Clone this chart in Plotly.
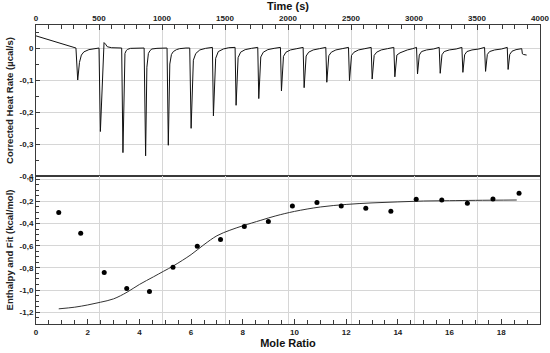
import plotly.graph_objects as go

# ---- Top panel: corrected heat rate trace (time in s, rate in µcal/s)
heat_time = [
    0, 317,
    331, 345, 360, 380, 420, 460, 495,
    500, 511, 540, 552, 566, 600, 676,
    680, 690, 706, 716, 728, 750, 855,
    858, 870, 880, 892, 905, 920, 960, 1036,
    1040, 1050, 1062, 1075, 1090, 1115, 1140, 1190,
    1220, 1231, 1249, 1268, 1300, 1346, 1389,
    1400, 1408, 1426, 1447, 1487, 1530, 1566,
    1580, 1588, 1604, 1624, 1660, 1710, 1750,
    1760, 1768, 1784, 1804, 1840, 1890, 1932,
    1940, 1948, 1964, 1984, 2020, 2070, 2112,
    2120, 2128, 2144, 2164, 2200, 2250, 2292,
    2300, 2308, 2324, 2344, 2380, 2430, 2472,
    2480, 2488, 2504, 2524, 2560, 2610, 2652,
    2660, 2668, 2684, 2704, 2740, 2790, 2832,
    2840, 2848, 2864, 2889, 2947, 2990, 3012,
    3020, 3028, 3042, 3060, 3100, 3155, 3192,
    3200, 3208, 3222, 3240, 3280, 3335, 3372,
    3380, 3388, 3402, 3420, 3460, 3515, 3552,
    3560, 3568, 3582, 3600, 3640, 3695, 3732,
    3740, 3747, 3760, 3778, 3810, 3855, 3860, 3868, 3894,
]
heat_rate = [
    0.038, 0.0,
    -0.100, -0.045, -0.022, -0.012, -0.005, -0.002, 0.0,
    0.0, -0.261, 0.017, 0.012, 0.004, 0.001, 0.0,
    0.0, -0.327, -0.017, -0.008, -0.004, -0.001, 0.0,
    0.0, -0.337, -0.060, -0.017, -0.008, -0.003, -0.001, 0.0,
    0.0, -0.304, -0.050, -0.020, -0.011, -0.005, -0.002, 0.0,
    0.0, -0.251, -0.038, -0.017, -0.006, -0.001, 0.003,
    0.002, -0.212, -0.032, -0.011, -0.003, 0.001, 0.003,
    0.002, -0.179, -0.030, -0.013, -0.005, -0.001, 0.002,
    0.002, -0.158, -0.028, -0.013, -0.005, -0.001, 0.002,
    0.002, -0.134, -0.026, -0.013, -0.006, -0.002, 0.002,
    0.002, -0.124, -0.025, -0.013, -0.006, -0.002, 0.002,
    0.002, -0.107, -0.024, -0.013, -0.006, -0.002, 0.002,
    0.002, -0.102, -0.023, -0.013, -0.006, -0.002, 0.002,
    0.002, -0.097, -0.023, -0.013, -0.006, -0.002, 0.002,
    0.002, -0.090, -0.022, -0.015, -0.006, -0.002, 0.002,
    0.002, -0.081, -0.022, -0.011, -0.006, -0.003, 0.002,
    0.002, -0.079, -0.021, -0.011, -0.006, -0.003, 0.002,
    0.002, -0.076, -0.021, -0.011, -0.006, -0.003, 0.002,
    0.002, -0.073, -0.020, -0.011, -0.006, -0.003, 0.002,
    0.002, -0.067, -0.020, -0.010, -0.005, -0.002, -0.018, -0.020, -0.022,
]

# ---- Bottom panel: integrated enthalpies and fit
mole_ratio = [0.88, 1.73, 2.64, 3.51, 4.39, 5.30, 6.24, 7.14, 8.06, 8.99,
              9.92, 10.87, 11.81, 12.76, 13.73, 14.71, 15.70, 16.69, 17.68, 18.69]
enthalpy = [-0.300, -0.487, -0.842, -0.986, -1.013, -0.794, -0.605, -0.544, -0.427, -0.382,
            -0.240, -0.210, -0.240, -0.262, -0.289, -0.180, -0.186, -0.217, -0.177, -0.126]

fit_x = [0.88, 1.5, 2.0, 2.5, 3.0, 3.52, 4.0, 4.55, 4.94, 5.33, 6.0, 6.5, 7.0, 7.5, 8.0,
         8.7, 9.28, 10.0, 11.0, 12.0, 13.0, 14.0, 15.0, 16.0, 17.0, 18.6]
fit_y = [-1.17, -1.155, -1.135, -1.11, -1.08, -1.02, -0.95, -0.88, -0.83, -0.78, -0.68, -0.59,
         -0.51, -0.46, -0.42, -0.37, -0.33, -0.29, -0.25, -0.227, -0.213, -0.204, -0.196,
         -0.193, -0.19, -0.187]

# ---- Tick labels
time_ticks = [0, 500, 1000, 1500, 2000, 2500, 3000, 3500, 4000]
rate_ticks = [0, -0.1, -0.2, -0.3, -0.4]
rate_labels = ["0", "-0,1", "-0,2", "-0,3", "-0,4"]
enth_ticks = [0, -0.2, -0.4, -0.6, -0.8, -1.0, -1.2]
enth_labels = ["0", "-0,2", "-0,4", "-0,6", "-0,8", "-1,0", "-1,2"]
mole_ticks = [0, 2, 4, 6, 8, 10, 12, 14, 16, 18]

FONT = "Arial, Liberation Sans, sans-serif"
GRID = "#d6d6d6"
LINE = "#3a3a3a"
tickfont = dict(family=FONT, size=8, color="#222", weight="bold")

fig = go.Figure()
fig.add_trace(go.Scatter(x=heat_time, y=heat_rate, mode="lines",
                         line=dict(color="#111", width=1), xaxis="x", yaxis="y",
                         showlegend=False, hoverinfo="skip"))
fig.add_trace(go.Scatter(x=fit_x, y=fit_y, mode="lines", line_shape="spline",
                         line=dict(color="#333", width=1), xaxis="x2", yaxis="y2",
                         showlegend=False))
fig.add_trace(go.Scatter(x=mole_ratio, y=enthalpy, mode="markers",
                         marker=dict(color="#000", size=5), xaxis="x2", yaxis="y2",
                         showlegend=False))
# invisible helper trace so the time-grid overlay on the bottom panel is drawn
fig.add_trace(go.Scatter(x=[None], y=[None], xaxis="x3", yaxis="y2", showlegend=False,
                         hoverinfo="skip"))

fig.update_layout(
    width=550, height=353,
    margin=dict(l=36, r=10, t=25, b=29),
    paper_bgcolor="white", plot_bgcolor="white",
    separators=",.",
    xaxis=dict(
        domain=[0, 1], anchor="y", side="top", range=[0, 4000], automargin=False,
        tickvals=time_ticks, ticks="inside", ticklen=5, tickcolor=LINE,
        minor=dict(dtick=100, tick0=0, ticks="inside", ticklen=4, tickcolor=LINE, showgrid=False),
        showgrid=True, gridcolor=GRID, gridwidth=1,
        showline=True, linecolor=LINE, linewidth=1, mirror=True,
        tickfont=tickfont, zeroline=False,
        title=dict(text="Time (s)", font=dict(family=FONT, size=11, color="#111", weight="bold"),
                   standoff=1),
    ),
    yaxis=dict(
        domain=[0.495, 1], anchor="x", range=[-0.4, 0.072], automargin=False,
        tickvals=rate_ticks, ticktext=rate_labels, ticks="inside", ticklen=4, tickcolor=LINE,
        minor=dict(dtick=0.05, tick0=0, ticks="inside", ticklen=3, tickcolor=LINE, showgrid=False),
        showgrid=True, gridcolor=GRID, zeroline=False,
        showline=True, linecolor=LINE, linewidth=1, mirror=True,
        tickfont=tickfont,
        title=dict(text="Corrected Heat Rate (µcal/s)",
                   font=dict(family=FONT, size=9.5, color="#222", weight="bold"), standoff=4),
    ),
    xaxis2=dict(
        domain=[0, 1], anchor="y2", range=[0, 19.5], automargin=False,
        tickvals=mole_ticks, ticks="inside", ticklen=5, tickcolor=LINE,
        minor=dict(dtick=0.5, tick0=0, ticks="inside", ticklen=4, tickcolor=LINE, showgrid=False),
        showgrid=False, zeroline=False,
        showline=True, linecolor=LINE, linewidth=1, mirror=True,
        tickfont=tickfont,
        title=dict(text="Mole Ratio", font=dict(family=FONT, size=11, color="#111", weight="bold"),
                   standoff=2),
    ),
    xaxis3=dict(
        overlaying="x2", anchor="y2", range=[0, 4000], dtick=500, tick0=0, automargin=False,
        showgrid=True, gridcolor=GRID, showticklabels=False, ticks="",
        showline=False, zeroline=False,
    ),
    yaxis2=dict(
        domain=[0, 0.495], anchor="x2", range=[-1.307, 0.03], automargin=False,
        tickvals=enth_ticks, ticktext=enth_labels, ticks="inside", ticklen=4, tickcolor=LINE,
        minor=dict(dtick=0.05, tick0=0, ticks="inside", ticklen=3, tickcolor=LINE, showgrid=False),
        showgrid=True, gridcolor=GRID, zeroline=False,
        showline=True, linecolor=LINE, linewidth=1, mirror=True,
        tickfont=tickfont,
        title=dict(text="Enthalpy and Fit (kcal/mol)",
                   font=dict(family=FONT, size=9.5, color="#222", weight="bold"), standoff=4),
    ),
)

fig.write_html("out.html", config={"displayModeBar": False},
               post_script="document.body.style.margin='0';")
